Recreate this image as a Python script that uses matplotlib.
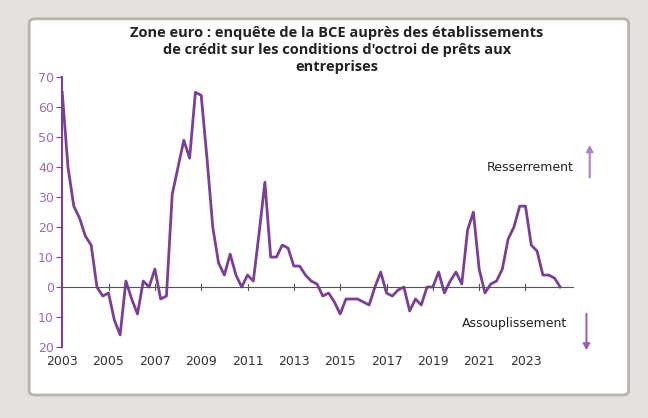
import matplotlib
matplotlib.use('Agg')
import matplotlib.pyplot as plt
from matplotlib.patches import FancyBboxPatch
import numpy as np

# quarterly survey values, 2003Q1 to 2024Q3
values = [65, 40, 27, 23, 17, 14, 0, -3, -2, -11, -16, 2, -4, -9, 2, 0,
          6, -4, -3, 31, 40, 49, 43, 65, 64, 43, 20, 8, 4, 11, 4, 0,
          4, 2, 18, 35, 10, 10, 14, 13, 7, 7, 4, 2, 1, -3, -2, -5,
          -9, -4, -4, -4, -5, -6, 0, 5, -2, -3, -1, 0, -8, -4, -6, 0,
          0, 5, -2, 2, 5, 1, 19, 25, 6, -2, 1, 2, 6, 16, 20, 27,
          27, 14, 12, 4, 4, 3, 0]
start_year = 2003
year_ticks = list(range(2003, 2024, 2))
y_ticks = list(range(-20, 71, 10))

x = start_year + np.arange(len(values)) / 4.0
purple = '#7b3f95'

fig = plt.figure(figsize=(6.48, 4.18), dpi=100)
fig.patch.set_facecolor('#e4e2de')
frame = FancyBboxPatch((0.045, 0.055), 0.925, 0.9, boxstyle='round,pad=0,rounding_size=0.01',
                       transform=fig.transFigure, facecolor='white', edgecolor='#b8b4ad', lw=2,
                       zorder=-10)
fig.patches.append(frame)

ax = fig.add_axes([0.096, 0.17, 0.79, 0.645])
ax.set_facecolor('none')
ax.set_zorder(5)
ax.plot(x, values, color=purple, lw=2)
ax.set_xlim(2003, 2025.1)
ax.set_ylim(-20, 70)
ax.set_yticks(y_ticks)
ax.set_yticklabels([str(abs(v)) for v in y_ticks], color='#9a6fb0', fontsize=9)
ax.set_xticks(year_ticks)
ax.set_xticklabels([str(y) for y in year_ticks], fontsize=9, color='#333333')
for s in ['top', 'right', 'bottom']:
    ax.spines[s].set_visible(False)
ax.spines['left'].set_color(purple)
ax.spines['left'].set_linewidth(1.5)
ax.tick_params(axis='y', length=4, color=purple, pad=2)
ax.tick_params(axis='x', length=0, pad=6)
ax.axhline(0, color='#555555', lw=0.8)
for y in year_ticks:
    ax.plot([y, y], [-1, 1], color='#555555', lw=0.8)

fig.text(0.52, 0.88, "Zone euro : enquête de la BCE auprès des établissements\n"
         "de crédit sur les conditions d'octroi de prêts aux\nentreprises",
         ha='center', va='center', fontsize=10.5, fontweight='bold', family='Open Sans',
         color='#222222', linespacing=1.3)
fig.text(0.885, 0.6, 'Resserrement', ha='right', va='center', fontsize=9, color='#222222')
fig.text(0.875, 0.225, 'Assouplissement', ha='right', va='center', fontsize=9, color='#222222')
fig.patches.append(matplotlib.patches.FancyArrow(0.91, 0.575, 0, 0.06, width=0.001, head_width=0.01,
                   head_length=0.015, transform=fig.transFigure, color='#b080c8'))
fig.patches.append(matplotlib.patches.FancyArrow(0.905, 0.25, 0, -0.07, width=0.001, head_width=0.01,
                   head_length=0.015, transform=fig.transFigure, color='#9a5fb5'))

plt.savefig('out.png', dpi=100)
